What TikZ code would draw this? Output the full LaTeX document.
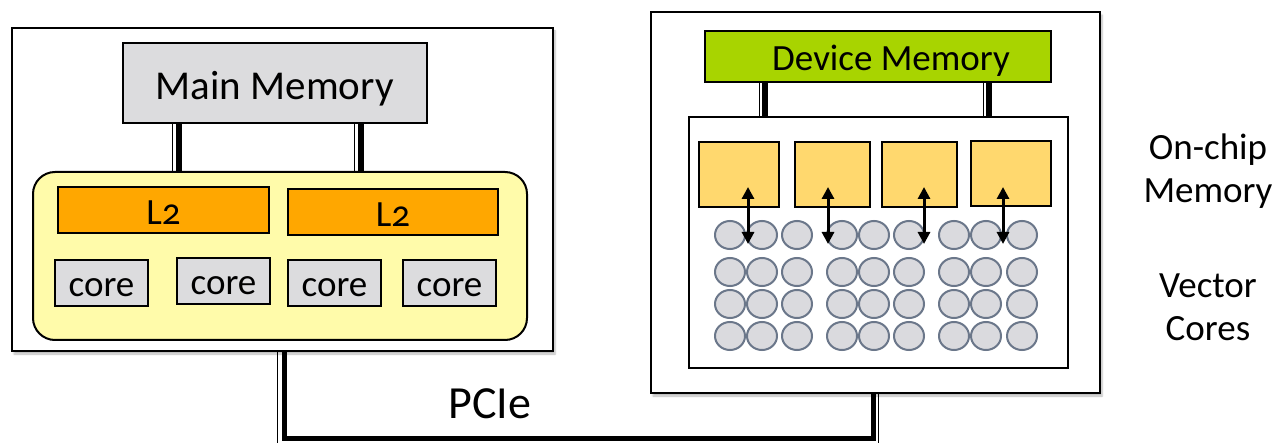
\documentclass[tikz,border=0pt]{standalone}
\usepackage{fontspec}
\setmainfont{Carlito}
\usetikzlibrary{arrows.meta,shapes.geometric,shadows.blur}

\definecolor{memgray}{HTML}{DCDCDE}
\definecolor{cpuyellow}{HTML}{FFFBAA}
\definecolor{cacheorange}{HTML}{FFA700}
\definecolor{devgreen}{HTML}{A8D400}
\definecolor{smemyellow}{HTML}{FFD86E}
\definecolor{lanefill}{HTML}{DADADE}
\definecolor{laneedge}{HTML}{6B778A}

\tikzset{
  panel/.style={draw=black, line width=2pt, fill=white, inner sep=0pt,
    blur shadow={shadow xshift=2pt, shadow yshift=-3pt, shadow blur steps=6,
      shadow opacity=28}},
  block/.style={draw=black, line width=2pt, inner sep=0pt},
  busthick/.style={line width=6pt, black},
  busthin/.style={line width=1pt, black},
  lane/.style={ellipse, draw=laneedge, fill=lanefill, line width=2pt,
    minimum width=30pt, minimum height=28pt, inner sep=0pt},
  xfer/.style={line width=3pt, {Triangle[width=12pt,length=12pt]}-{Triangle[width=12pt,length=12pt]}},
  bigtext/.style={font=\fontsize{41}{46}\selectfont, inner sep=0pt},
  midtext/.style={font=\fontsize{37}{43}\selectfont, inner sep=0pt},
}

\begin{document}
\begin{tikzpicture}[x=1pt, y=-1pt]
\useasboundingbox (0,0) rectangle (1274,443);

% ---------------- host side ----------------
\node[panel, minimum width=541pt, minimum height=323pt] (host) at (282.5,189.5) {};
\node[block, fill=memgray, minimum width=304.5pt, minimum height=80pt] (mm) at (274.75,83) {};
\node[bigtext] (mmlabel) at ([yshift=-6pt]mm.center) {Main Memory};
\node[block, fill=cpuyellow, rounded corners=22pt, minimum width=494pt,
  minimum height=168pt] (cpu) at (280,256) {};
\node[block, fill=cacheorange, minimum width=211pt, minimum height=46pt] (l2a) at (163.5,210) {};
\node[block, fill=cacheorange, minimum width=210pt, minimum height=46pt] (l2b) at (393,212) {};
\foreach \b in {l2a,l2b}{
  \node[midtext] (\b label) at ([yshift=-3pt]\b.center) {L\addfontfeature{Numbers=OldStyle}2};
}
\node[block, fill=memgray, minimum width=93pt, minimum height=46pt] (c1) at (101.5,283) {};
\node[block, fill=memgray, minimum width=93pt, minimum height=46pt] (c2) at (223.5,281) {};
\node[block, fill=memgray, minimum width=93pt, minimum height=46pt] (c3) at (334.5,283) {};
\node[block, fill=memgray, minimum width=93pt, minimum height=46pt] (c4) at (449.5,283) {};
\foreach \b in {c1,c2,c3,c4}{
  \node[midtext] (\b label) at ([yshift=-5pt]\b.center) {core};
}

% memory buses (thin + thick line pairs)
\coordinate (ha) at (179,0);   \coordinate (hat) at (172.5,0);
\coordinate (hb) at (361,0);   \coordinate (hbt) at (354.5,0);
\draw[busthick] (ha |- mm.south) -- (ha |- cpu.north);
\draw[busthin]  (hat |- mm.south) -- (hat |- cpu.north);
\draw[busthick] (hb |- mm.south) -- (hb |- cpu.north);
\draw[busthin]  (hbt |- mm.south) -- (hbt |- cpu.north);

% ---------------- device side ----------------
\node[panel, minimum width=449pt, minimum height=381pt] (dev) at (875.5,202.5) {};
\node[block, fill=devgreen, minimum width=346pt, minimum height=51pt] (dm) at (878,56.5) {};
\node[midtext] (dmlabel) at (891,61) {Device Memory};
\node[draw=black, line width=2pt, fill=white, inner sep=0pt,
  minimum width=379pt, minimum height=251pt] (chip) at (878.5,242.5) {};

\coordinate (da) at (765,0);   \coordinate (dat) at (759.5,0);
\coordinate (db) at (989,0);   \coordinate (dbt) at (983.5,0);
\draw[busthick] (da |- dm.south) -- (da |- chip.north);
\draw[busthin]  (dat |- dm.south) -- (dat |- chip.north);
\draw[busthick] (db |- dm.south) -- (db |- chip.north);
\draw[busthin]  (dbt |- dm.south) -- (dbt |- chip.north);

% shared memory blocks
\node[block, fill=smemyellow, minimum width=80pt, minimum height=65pt] (s1) at (739,174.5) {};
\node[block, fill=smemyellow, minimum width=75pt, minimum height=65pt] (s2) at (832.5,174.5) {};
\node[block, fill=smemyellow, minimum width=75pt, minimum height=65pt] (s3) at (919.5,174.5) {};
\node[block, fill=smemyellow, minimum width=80pt, minimum height=65pt] (s4) at (1011,173.5) {};

% vector lanes: three groups of three columns, four rows
\foreach \x [count=\i] in {730,762,797,842,874,909,954,986,1022}{
  \foreach \y [count=\j] in {235,272,304,336}{
    \node[lane] (v\i-\j) at (\x,\y) {};
  }
}

% transfers between shared memory and lanes
\foreach \x [count=\k] in {748,828,924,1003}{
  \coordinate (tu\k) at (\x,187);
  \coordinate (td\k) at (\x,244);
  \draw[xfer] (tu\k) -- (td\k);
}

% ---------------- PCIe link ----------------
\coordinate (pl) at (284,0);  \coordinate (plt) at (277,0);
\coordinate (pr) at (873.5,0); \coordinate (prt) at (878.5,0);
\coordinate (pb) at (0,438);   \coordinate (pbt) at (0,445);
\draw[line width=5pt, line join=miter] (pl |- host.south) -- (pl |- pb) -- (pr |- pb) -- (pr |- dev.south);
\draw[busthin] (plt |- host.south) -- (plt |- pbt);
\draw[busthin] (prt |- dev.south) -- (prt |- pbt);
\node[font=\fontsize{46}{50}\selectfont] (pcie) at (490,404) {PCIe};

% ---------------- side labels ----------------
\node[midtext, align=center] (onchip) at (1208,171) {On-chip\\Memory};
\node[midtext, align=center] (vcores) at (1208,307) {Vector\\Cores};
\end{tikzpicture}
\end{document}
